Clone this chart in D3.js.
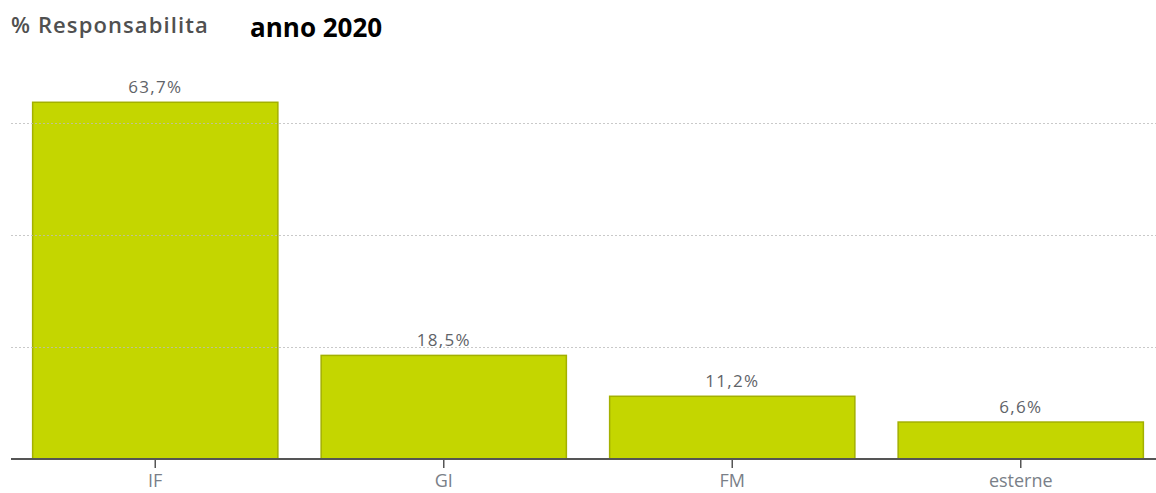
<!DOCTYPE html>
<html>
<head>
<meta charset="utf-8">
<script src="https://cdn.jsdelivr.net/npm/d3@7"></script>
<style>
  body { margin: 0; background: #fff; }
  svg { display: block; }
</style>
</head>
<body>
<svg id="chart"></svg>
<script>
const categories = ["IF", "GI", "FM", "esterne"];
const values = [63.7, 18.5, 11.2, 6.6];
const gridValues = [20, 40, 60];

const width = 1156;
const height = 493;
const baseY = 459;

const svg = d3.select("#chart")
    .attr("width", width)
    .attr("height", height);

const x = d3.scaleBand()
    .domain(categories)
    .range([11, 1165])
    .paddingInner(0.15)
    .paddingOuter(0.075);

const y = d3.scaleLinear()
    .domain([0, 80])
    .range([baseY, baseY - 80 * 5.6]);

// title
svg.append("text")
    .attr("x", 11)
    .attr("y", 33)
    .attr("font-family", "Open Sans, sans-serif")
    .attr("font-size", 22)
    .attr("font-weight", 600)
    .attr("letter-spacing", 1.1)
    .attr("fill", "#505050")
    .text("% Responsabilita");

svg.append("text")
    .attr("x", 250)
    .attr("y", 37)
    .attr("font-family", "Open Sans, sans-serif")
    .attr("font-weight", "bold")
    .attr("font-size", 26)
    .attr("fill", "#000")
    .text("anno 2020");

// bars
svg.append("g")
    .selectAll("rect")
    .data(values)
    .join("rect")
        .attr("x", (d, i) => x(categories[i]))
        .attr("y", d => y(d))
        .attr("width", x.bandwidth())
        .attr("height", d => y(0) - y(d))
        .attr("fill", "#c4d600")
        .attr("stroke", "#a3b000")
        .attr("stroke-width", 1.5);

// grid lines (drawn over the bars, light dotted)
svg.append("g")
    .selectAll("line")
    .data(gridValues)
    .join("line")
        .attr("x1", 11)
        .attr("x2", width)
        .attr("y1", d => Math.round(y(d)) + 0.5)
        .attr("y2", d => Math.round(y(d)) + 0.5)
        .attr("stroke", "#bbb")
        .attr("stroke-opacity", 0.8)
        .attr("stroke-dasharray", "2,2");

// value labels
svg.append("g")
    .selectAll("text")
    .data(values)
    .join("text")
        .attr("x", (d, i) => x(categories[i]) + x.bandwidth() / 2)
        .attr("y", d => y(d) - 9)
        .attr("text-anchor", "middle")
        .attr("font-family", "Open Sans, sans-serif")
        .attr("font-size", 17)
        .attr("letter-spacing", 1.3)
        .attr("fill", "#5f6368")
        .text(d => d.toFixed(1).replace(".", ",") + "%");

// x axis
const axis = svg.append("g")
    .attr("transform", `translate(0,${baseY})`)
    .call(d3.axisBottom(x).tickSize(9).tickSizeOuter(0));

axis.select(".domain")
    .attr("stroke", "#555")
    .attr("stroke-width", 2)
    .attr("d", `M11,0H${width}`);
axis.selectAll(".tick line")
    .attr("stroke", "#555")
    .attr("stroke-width", 1.5);
axis.selectAll(".tick text")
    .attr("y", 28)
    .attr("dy", null)
    .attr("font-family", "Open Sans, sans-serif")
    .attr("font-size", 18)
    .attr("fill", "#7a7f88");
</script>
</body>
</html>
